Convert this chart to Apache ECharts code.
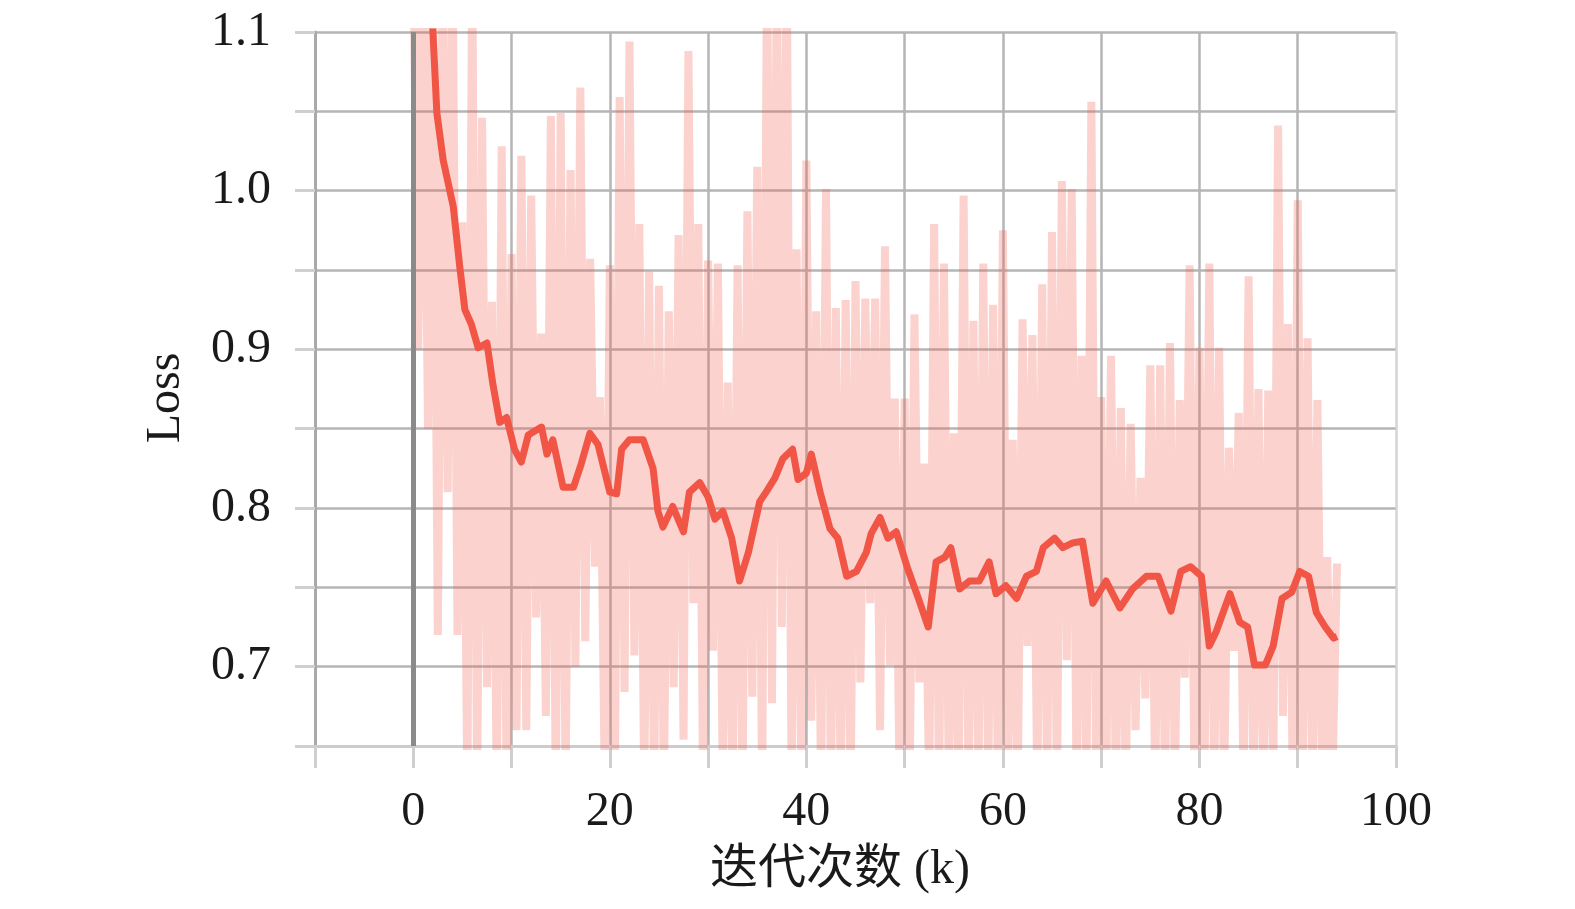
<!DOCTYPE html>
<html>
<head>
<meta charset="utf-8">
<script src="https://cdn.jsdelivr.net/npm/echarts@6/dist/echarts.min.js"></script>
<style>
html,body{margin:0;padding:0;background:#fff;}
#chart{width:1575px;height:909px;}
</style>
</head>
<body>
<div id="chart"></div>
<script>
// Raw loss: spike tops at integer k (0..94)
var rawPeaks = [1.15,1.15,1.15,1.15,1.15,0.98,1.15,1.046,0.93,1.028,
  0.96,1.022,0.997,0.91,1.047,1.049,1.013,1.065,0.957,0.87,
  0.953,1.059,1.094,0.979,0.949,0.94,0.924,0.972,1.088,0.979,
  0.956,0.954,0.879,0.953,0.987,1.015,1.15,1.15,1.15,0.963,
  1.019,0.924,1.001,0.926,0.931,0.943,0.932,0.932,0.965,0.869,
  0.869,0.922,0.828,0.979,0.954,0.847,0.997,0.918,0.954,0.928,
  0.975,0.843,0.919,0.909,0.941,0.974,1.006,1.001,0.896,1.056,
  0.87,0.896,0.863,0.853,0.819,0.89,0.89,0.904,0.868,0.953,
  0.901,0.954,0.901,0.838,0.86,0.946,0.875,0.874,1.041,0.916,
  0.994,0.907,0.868,0.769,0.765];
// Raw loss: spike bottoms at half steps (0.5..93.5)
var rawTroughs = [0.9,0.85,0.72,0.81,0.72,0.62,0.62,0.687,0.62,0.62,
  0.66,0.66,0.731,0.669,0.62,0.62,0.7,0.716,0.763,0.62,
  0.62,0.684,0.707,0.62,0.62,0.62,0.687,0.654,0.74,0.62,
  0.71,0.62,0.62,0.62,0.681,0.62,0.677,0.725,0.62,0.62,
  0.666,0.62,0.62,0.62,0.62,0.69,0.74,0.66,0.701,0.62,
  0.62,0.69,0.62,0.62,0.62,0.62,0.62,0.62,0.62,0.62,
  0.62,0.62,0.713,0.62,0.62,0.62,0.704,0.62,0.62,0.62,
  0.62,0.62,0.62,0.66,0.68,0.62,0.62,0.62,0.693,0.62,
  0.62,0.62,0.62,0.71,0.62,0.62,0.62,0.62,0.669,0.62,
  0.62,0.62,0.62,0.62];
// Smoothed loss
var smoothSteps = [0.3,1.0,1.6,2.0,2.4,3.05,4.07,4.75,5.25,5.9,6.6,7.5,8.1,8.8,9.5,10.3,11.0,11.7,12.5,13.05,
  13.6,14.2,15.25,16.3,17.1,17.97,18.8,20.0,20.7,21.2,22.0,23.4,24.4,24.9,25.4,26.4,27.5,28.1,29.15,30.0,
  30.7,31.5,32.4,33.2,34.1,35.25,35.9,36.8,37.6,38.6,39.15,40.0,40.5,41.4,42.4,43.2,44.1,45.1,46.1,46.6,
  47.5,48.3,49.15,50.3,51.4,52.4,53.2,54.1,54.7,55.6,56.6,57.6,58.6,59.3,60.3,61.4,62.4,63.4,64.1,65.25,
  66.1,67.1,68.1,69.15,70.5,71.9,73.2,74.6,75.8,77.1,78.1,79.1,80.2,81.0,81.7,83.1,84.1,84.9,85.6,86.7,
  87.5,88.4,89.4,90.2,91.1,91.9,92.8,93.65,94.0];
var smoothLoss = [1.6,1.3,1.16,1.1,1.049,1.019,0.99,0.951,0.925,0.916,0.901,0.904,0.878,0.854,0.857,0.837,0.829,0.846,0.849,0.851,
  0.834,0.843,0.813,0.813,0.828,0.847,0.84,0.81,0.809,0.837,0.843,0.843,0.825,0.798,0.788,0.801,0.785,0.81,0.816,0.807,
  0.793,0.798,0.781,0.754,0.772,0.804,0.81,0.819,0.831,0.837,0.818,0.822,0.834,0.81,0.787,0.781,0.757,0.76,0.772,0.784,
  0.794,0.781,0.785,0.762,0.743,0.725,0.766,0.769,0.775,0.749,0.754,0.754,0.766,0.746,0.751,0.743,0.757,0.76,0.775,0.781,
  0.775,0.778,0.779,0.74,0.754,0.737,0.749,0.757,0.757,0.735,0.76,0.763,0.757,0.713,0.722,0.746,0.728,0.725,0.701,0.701,
  0.713,0.743,0.747,0.76,0.757,0.734,0.725,0.718,0.719];
var xTickLabels = [0,20,40,60,80,100];
var yTickLabels = ['0.7','0.8','0.9','1.0','1.1'];

var rawData = [];
for (var i = 0; i < rawPeaks.length; i++) {
  rawData.push([i, rawPeaks[i]]);
  if (i < rawTroughs.length) rawData.push([i + 0.5, rawTroughs[i]]);
}
var smoothData = smoothSteps.map(function (s, i) { return [s, smoothLoss[i]]; });

var serif = '"Liberation Serif", "Times New Roman", serif';
var chart = echarts.init(document.getElementById('chart'), null, {renderer: 'canvas'});
var xLineColors = ['#a9a9a9','#8c8c8c','#b5b5b5','#b5b5b5','#b5b5b5','#b5b5b5','#b5b5b5','#b5b5b5','#b5b5b5','#b5b5b5','#b5b5b5','#d4d4d4'];
var yLineColors = ['#cfcfcf','#b5b5b5','#b5b5b5','#b5b5b5','#b5b5b5','#b5b5b5','#b5b5b5','#b5b5b5','#b5b5b5','#b5b5b5'];
chart.setOption({
  animation: false,
  backgroundColor: '#ffffff',
  grid: {left: 315, right: 179, top: 32, bottom: 163, containLabel: false, outerBoundsMode: 'none'},
  xAxis: {
    type: 'value', min: -10, max: 100, interval: 10,
    axisLine: {show: true, onZero: false, lineStyle: {color: '#cccccc', width: 3}},
    axisTick: {show: true, inside: false, length: 22, lineStyle: {color: '#cfcfcf', width: 3}},
    axisLabel: {
      margin: 42, color: '#1a1a1a', fontFamily: serif, fontSize: 48,
      formatter: function (v) { return xTickLabels.indexOf(Math.round(v)) >= 0 ? String(Math.round(v)) : ''; }
    },
    splitLine: {show: true, lineStyle: {color: xLineColors, width: 2.5}}
  },
  yAxis: {
    type: 'value', min: 0.65, max: 1.1, interval: 0.05,
    axisLine: {show: true, onZero: false, lineStyle: {color: '#a9a9a9', width: 3}},
    axisTick: {show: true, inside: false, length: 20, lineStyle: {color: '#cfcfcf', width: 3}},
    axisLabel: {
      margin: 44, color: '#1a1a1a', fontFamily: serif, fontSize: 48,
      formatter: function (v) { var s = v.toFixed(2); var t = v.toFixed(1); return (s === t + '0' && yTickLabels.indexOf(t) >= 0) ? t : ''; }
    },
    splitLine: {show: true, lineStyle: {color: yLineColors, width: 2.5}}
  },
  graphic: [
    {type: 'text', x: 840, y: 870, style: {text: '迭代次数 (k)', font: '48px "Liberation Serif", "Noto Sans CJK SC", serif', fill: '#1a1a1a', align: 'center', verticalAlign: 'middle', textAlign: 'center', textVerticalAlign: 'middle'}},
    {type: 'text', x: 166, y: 398, rotation: Math.PI / 2, style: {text: 'Loss', font: '48px "Liberation Serif", serif', fill: '#1a1a1a', align: 'center', verticalAlign: 'middle', textAlign: 'center', textVerticalAlign: 'middle'}}
  ],
  series: [
    {
      type: 'line', data: rawData, symbol: 'none', clip: true,
      lineStyle: {color: 'rgba(240,90,75,0.27)', width: 8, join: 'bevel'},
      markLine: {silent: true, symbol: 'none', label: {show: false},
        lineStyle: {color: '#8a8a8a', width: 5, type: 'solid'},
        data: [{xAxis: 0}]}
    },
    {
      type: 'line', data: smoothData, symbol: 'none', clip: true,
      lineStyle: {color: '#f05545', width: 7, join: 'round'}
    }
  ]
});
</script>
</body>
</html>
